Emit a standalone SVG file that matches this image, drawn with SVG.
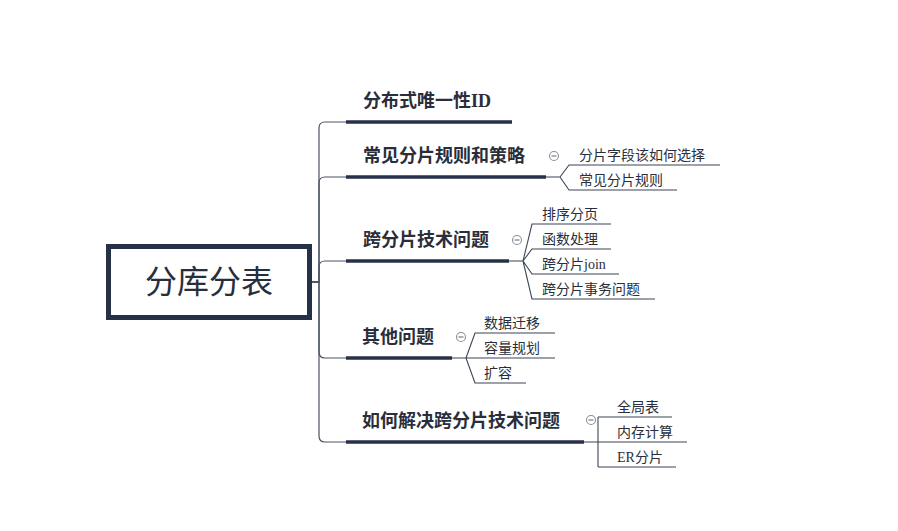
<svg xmlns="http://www.w3.org/2000/svg" width="898" height="531" viewBox="0 0 898 531">
<style>
.bg{fill:#ffffff}
.conn{fill:none;stroke:#4a5263;stroke-width:1.2}
.ul{stroke:#263148;stroke-width:3.6;fill:none}
.leafline{fill:none;stroke:#3d4556;stroke-width:1.1}
.btext{font-family:"Liberation Serif","Noto Sans CJK SC",serif;font-size:18px;font-weight:bold;fill:#2a2e3a}
.ltext{font-family:"Liberation Serif","Noto Sans CJK SC",serif;font-size:14px;fill:#2a2e3a}
.ctext{font-family:"Liberation Serif","Noto Sans CJK SC",serif;font-size:32px;fill:#2a2e3a}
.col circle{fill:#ffffff;stroke:#8a8f99;stroke-width:1.1}
.col line{stroke:#6a6f7a;stroke-width:1.1}
</style>
<rect class="bg" x="0" y="0" width="898" height="531"/>
<g id="connectors">
<path class="conn" d="M312,282 H319 V128 Q319,122 325,122 H346"/>
<path class="conn" d="M312,282 H319 V183 Q319,177 325,177 H346"/>
<path class="conn" d="M312,282 H319 V267 Q319,261 325,261 H346"/>
<path class="conn" d="M312,282 H319 V352 Q319,358 325,358 H346"/>
<path class="conn" d="M312,282 H319 V436 Q319,442 325,442 H346"/>
<path class="leafline" d="M546,177 H560 L569,165 H720 M560,177 L569,190 H677"/>
<path class="leafline" d="M509,261 H523 L532,224 H611 M523,261 L532,249 H611 M523,261 L532,274 H619 M523,261 L532,299 H655"/>
<path class="leafline" d="M452,358 H555 M466,358 L475,333 H555 M466,358 L475,383 H526"/>
<path class="leafline" d="M584,442 H687 M598,417 V467 M598,417 H672 M598,467 H676"/>
</g>
<g id="root">
<rect x="108.5" y="246.5" width="201" height="71" fill="#ffffff" stroke="#263148" stroke-width="5"/>
<text class="ctext" x="209" y="293" text-anchor="middle">分库分表</text>
</g>
<g id="b1">
<text class="btext" x="363" y="107">分布式唯一性ID</text>
<line class="ul" x1="346" y1="122" x2="512" y2="122"/>
</g>
<g id="b2">
<text class="btext" x="363" y="162">常见分片规则和策略</text>
<line class="ul" x1="346" y1="177" x2="546" y2="177"/>
<g class="col"><circle cx="554" cy="156" r="4.5"/><line x1="551.5" y1="156" x2="556.5" y2="156"/></g>
</g>
<g id="b3">
<text class="btext" x="363" y="246">跨分片技术问题</text>
<line class="ul" x1="346" y1="261" x2="509" y2="261"/>
<g class="col"><circle cx="517" cy="240" r="4.5"/><line x1="514.5" y1="240" x2="519.5" y2="240"/></g>
</g>
<g id="b4">
<text class="btext" x="362" y="343">其他问题</text>
<line class="ul" x1="346" y1="358" x2="452" y2="358"/>
<g class="col"><circle cx="461" cy="337" r="4.5"/><line x1="458.5" y1="337" x2="463.5" y2="337"/></g>
</g>
<g id="b5">
<text class="btext" x="362" y="427">如何解决跨分片技术问题</text>
<line class="ul" x1="346" y1="442" x2="584" y2="442"/>
<g class="col"><circle cx="591" cy="420" r="4.5"/><line x1="588.5" y1="420" x2="593.5" y2="420"/></g>
</g>
<g id="l2a"><text class="ltext" x="579" y="160">分片字段该如何选择</text></g>
<g id="l2b"><text class="ltext" x="579" y="185">常见分片规则</text></g>
<g id="l3a"><text class="ltext" x="542" y="219">排序分页</text></g>
<g id="l3b"><text class="ltext" x="542" y="244">函数处理</text></g>
<g id="l3c"><text class="ltext" x="542" y="269">跨分片join</text></g>
<g id="l3d"><text class="ltext" x="542" y="294">跨分片事务问题</text></g>
<g id="l4a"><text class="ltext" x="484" y="328">数据迁移</text></g>
<g id="l4b"><text class="ltext" x="484" y="353">容量规划</text></g>
<g id="l4c"><text class="ltext" x="484" y="378">扩容</text></g>
<g id="l5a"><text class="ltext" x="617" y="412">全局表</text></g>
<g id="l5b"><text class="ltext" x="617" y="437">内存计算</text></g>
<g id="l5c"><text class="ltext" x="617" y="462">ER分片</text></g>
</svg>
